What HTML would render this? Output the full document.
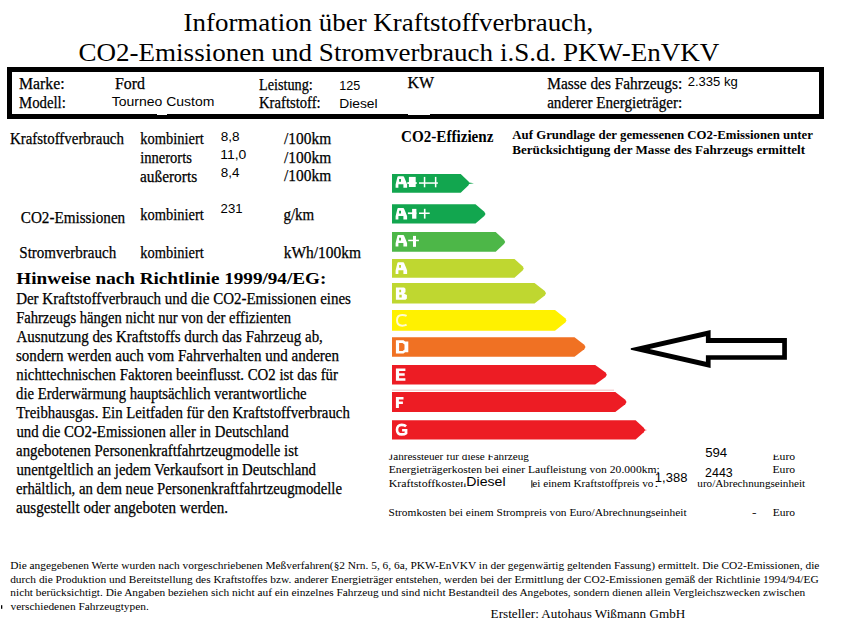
<!DOCTYPE html>
<html><head><meta charset="utf-8"><title>Information über Kraftstoffverbrauch</title>
<style>
html,body{margin:0;padding:0;background:#fff;width:845px;height:630px;overflow:hidden;}
svg{display:block;}
text{white-space:pre;}
</style></head><body>
<svg width="845" height="630" viewBox="0 0 845 630">
<rect x="0" y="0" width="845" height="630" fill="#fff"/>

<rect x="9.5" y="69.5" width="812" height="47" fill="none" stroke="#000" stroke-width="5"/>
<rect x="157" y="114" width="10" height="1" fill="#fff"/>
<rect x="408" y="114" width="22" height="1" fill="#fff"/>
<polygon points="392,174 460.7,174 468.3,181.15 469.5,183.35 468.3,185.54999999999998 460.7,192.7 392,192.7" fill="#12a64f"/>
<path transform="translate(395.6,176.20)" d="M2.6,0 H7.6 Q8.2,0 8.5,0.8 L10.6,5.8 L11.5,8.2 V11.6 H7.8 V8 H2.8 V11.6 H0 V8.2 L0.6,5.8 L1.8,0.8 Q2,0 2.6,0 Z M3.5,2.7 H5.4 V5.5 H3.5 Z" fill="#ffffff" fill-rule="evenodd"/>
<rect x="408.9" y="176.9" width="6.8" height="10.1" fill="#ffffff"/>
<rect x="407.3" y="182.1" width="9.4" height="1.9" fill="#ffffff"/>
<rect x="419" y="182.3" width="18.9" height="1.5" fill="#ffffff"/>
<rect x="423.8" y="176.9" width="1.5" height="10.4" fill="#ffffff"/>
<rect x="434.9" y="176.9" width="1.5" height="10.4" fill="#ffffff"/>
<path d="M469,182.6 L474,183.2 L469,184" fill="#12a64f"/>
<polygon points="392,204.2 475.5,204.2 484.3,211.7 485.5,213.89999999999998 484.3,216.09999999999997 475.5,223.6 392,223.6" fill="#12a64f"/>
<path transform="translate(395.6,208.00)" d="M2.6,0 H7.6 Q8.2,0 8.5,0.8 L10.6,5.8 L11.5,8.2 V11.6 H7.8 V8 H2.8 V11.6 H0 V8.2 L0.6,5.8 L1.8,0.8 Q2,0 2.6,0 Z M3.5,2.7 H5.4 V5.5 H3.5 Z" fill="#ffffff" fill-rule="evenodd"/>
<rect x="412.1" y="208.9" width="4.3" height="9.8" fill="#ffffff"/>
<rect x="407.9" y="212.4" width="8.5" height="1.7" fill="#ffffff"/>
<rect x="419" y="212.5" width="10.7" height="1.5" fill="#ffffff"/>
<rect x="423.9" y="208.8" width="1.6" height="9.8" fill="#ffffff"/>
<polygon points="392,232.1 495.7,232.1 504.0,239.7 505.2,241.89999999999998 504.0,244.09999999999997 495.7,251.7 392,251.7" fill="#4db748"/>
<path transform="translate(395.6,235.00)" d="M2.6,0 H7.6 Q8.2,0 8.5,0.8 L10.6,5.8 L11.5,8.2 V11.6 H7.8 V8 H2.8 V11.6 H0 V8.2 L0.6,5.8 L1.8,0.8 Q2,0 2.6,0 Z M3.5,2.7 H5.4 V5.5 H3.5 Z" fill="#ffffff" fill-rule="evenodd"/>
<rect x="413" y="235.9" width="3" height="10.9" fill="#ffffff"/>
<rect x="408.2" y="239.7" width="10.7" height="1.5" fill="#ffffff"/>
<polygon points="392,259 514.5,259 522.5999999999999,266.2 523.8,268.4 522.5999999999999,270.59999999999997 514.5,277.8 392,277.8" fill="#bfd730"/>
<path transform="translate(395.6,262.30)" d="M2.6,0 H7.6 Q8.2,0 8.5,0.8 L10.6,5.8 L11.5,8.2 V11.6 H7.8 V8 H2.8 V11.6 H0 V8.2 L0.6,5.8 L1.8,0.8 Q2,0 2.6,0 Z M3.5,2.7 H5.4 V5.5 H3.5 Z" fill="#ffffff" fill-rule="evenodd"/>
<polygon points="392,283.1 534.5,283.1 544.8,291.05 546,293.25 544.8,295.45 534.5,303.4 392,303.4" fill="#bfd730"/>
<path transform="translate(395.9,287.40)" d="M0,0 H8.2 L9.6,1.4 V4.8 L8.4,5.6 V6.4 L11,7.6 V11 L9.6,12.4 H0 Z M3.4,2.4 H5.2 V4.8 H3.4 Z M3.4,7.4 H5.8 V10 H3.4 Z" fill="#ffffff" fill-rule="evenodd"/>
<polygon points="392,310 555,310 565.3,318.2 566.5,320.4 565.3,322.59999999999997 555,330.8 392,330.8" fill="#fff100"/>
<path transform="translate(396,314.10)" d="M10.6,1.8 Q9,0.9 6.2,0.9 Q1,0.9 1,6.25 Q1,11.6 6.2,11.6 Q9,11.6 10.6,10.6" fill="none" stroke="#fffbd0" stroke-width="2"/>
<polygon points="392,337.2 574.5,337.2 584.3,344.75 585.5,346.95 584.3,349.15 574.5,356.7 392,356.7" fill="#f07123"/>
<path transform="translate(395.9,340.30)" d="M0,0 H7.6 L9.2,1.2 H12.4 V12 H9.2 L7.6,13.3 H0 Z M3.2,2.6 H6.6 L8.6,4.2 V9.2 L6.8,10.8 H3.2 Z" fill="#ffffff" fill-rule="evenodd"/>
<polygon points="392,365 595.2,365 605.5999999999999,372.55 606.8,374.75 605.5999999999999,376.95 595.2,384.5 392,384.5" fill="#ed1c24"/>
<path transform="translate(395.9,368.40)" d="M0,0 H9.5 V2.6 H3.2 V4.9 H8.8 V7.4 H3.2 V9.8 H9.5 V12.4 H0 Z" fill="#ffffff" fill-rule="evenodd"/>
<polygon points="392,392 615.3,392 625.3,399.75 626.5,401.95 625.3,404.15 615.3,411.9 392,411.9" fill="#ed1c24"/>
<path transform="translate(395.9,396.90)" d="M0,0 H7.6 V2.5 H3 V4.6 H7 V7 H3 V11.1 H0 Z" fill="#ffffff" fill-rule="evenodd"/>
<polygon points="392,420.3 635.6,420.3 643.8,427.75000000000006 645,429.95000000000005 643.8,432.15000000000003 635.6,439.6 392,439.6" fill="#ed1c24"/>
<path transform="translate(395.7,423.60)" d="M10.4,2.6 Q9,1.3 6,1.3 Q1.3,1.3 1.3,6.05 Q1.3,10.8 6,10.8 Q9,10.8 10.4,9.6 V6.6 H6.4" fill="none" stroke="#ffffff" stroke-width="2.6"/>
<path d="M644,429.6 L647,430.1 L644,430.7" fill="#ed1c24"/>
<rect x="392" y="389.6" width="222" height="1.2" fill="#f6c9cb"/>
<path d="M630.8,348.2 L710.6,329.9 V338.1 H786.9 V359.8 H710.6 V368 L630.8,349.8 Z M649.5,349 L705.9,361.8 V355.2 H782.2 V342.9 H705.9 V336.2 Z" fill="#000" fill-rule="evenodd"/>
<text x="183.56" y="31" font-family='"Liberation Serif", serif' font-size="26" textLength="409.71" lengthAdjust="spacingAndGlyphs">Information über Kraftstoffverbrauch,</text>
<text x="78.42" y="61" font-family='"Liberation Serif", serif' font-size="26" textLength="640.92" lengthAdjust="spacingAndGlyphs">CO2-Emissionen und Stromverbrauch i.S.d. PKW-EnVKV</text>
<text x="19.03" y="88.5" font-family='"Liberation Serif", serif' font-size="16" stroke="#000" stroke-width="0.25" textLength="45.58" lengthAdjust="spacingAndGlyphs">Marke:</text>
<text x="19.06" y="107.7" font-family='"Liberation Serif", serif' font-size="16" stroke="#000" stroke-width="0.25" textLength="46.74" lengthAdjust="spacingAndGlyphs">Modell:</text>
<text x="114.92" y="88.8" font-family='"Liberation Serif", serif' font-size="16" stroke="#000" stroke-width="0.25" textLength="30.02" lengthAdjust="spacingAndGlyphs">Ford</text>
<text x="111.72" y="105.6" font-family='"Liberation Sans", sans-serif' font-size="13" textLength="102.65" lengthAdjust="spacingAndGlyphs">Tourneo Custom</text>
<text x="259.07" y="89.5" font-family='"Liberation Serif", serif' font-size="16" stroke="#000" stroke-width="0.25" textLength="53.70" lengthAdjust="spacingAndGlyphs">Leistung:</text>
<text x="259.06" y="107.8" font-family='"Liberation Serif", serif' font-size="16" stroke="#000" stroke-width="0.25" textLength="61.55" lengthAdjust="spacingAndGlyphs">Kraftstoff:</text>
<text x="339.36" y="90" font-family='"Liberation Sans", sans-serif' font-size="13" textLength="20.99" lengthAdjust="spacingAndGlyphs">125</text>
<text x="339.19" y="107.8" font-family='"Liberation Sans", sans-serif' font-size="13" textLength="38.46" lengthAdjust="spacingAndGlyphs">Diesel</text>
<text x="407.52" y="88.2" font-family='"Liberation Serif", serif' font-size="16" stroke="#000" stroke-width="0.25" textLength="26.57" lengthAdjust="spacingAndGlyphs">KW</text>
<text x="547.24" y="88.8" font-family='"Liberation Serif", serif' font-size="16" stroke="#000" stroke-width="0.25" textLength="135.00" lengthAdjust="spacingAndGlyphs">Masse des Fahrzeugs:</text>
<text x="547.17" y="107.8" font-family='"Liberation Serif", serif' font-size="16" stroke="#000" stroke-width="0.25" textLength="135.09" lengthAdjust="spacingAndGlyphs">anderer Energieträger:</text>
<text x="687.65" y="85.6" font-family='"Liberation Sans", sans-serif' font-size="13" textLength="50.22" lengthAdjust="spacingAndGlyphs">2.335 kg</text>
<text x="9.95" y="143.8" font-family='"Liberation Serif", serif' font-size="16" stroke="#000" stroke-width="0.25" textLength="113.97" lengthAdjust="spacingAndGlyphs">Krafstoffverbrauch</text>
<text x="140.31" y="143.8" font-family='"Liberation Serif", serif' font-size="16" stroke="#000" stroke-width="0.25" textLength="63.41" lengthAdjust="spacingAndGlyphs">kombiniert</text>
<text x="140.31" y="162.8" font-family='"Liberation Serif", serif' font-size="16" stroke="#000" stroke-width="0.25" textLength="51.59" lengthAdjust="spacingAndGlyphs">innerorts</text>
<text x="140.06" y="181.8" font-family='"Liberation Serif", serif' font-size="16" stroke="#000" stroke-width="0.25" textLength="57.08" lengthAdjust="spacingAndGlyphs">außerorts</text>
<text x="220.69" y="141" font-family='"Liberation Sans", sans-serif' font-size="13" textLength="18.85" lengthAdjust="spacingAndGlyphs">8,8</text>
<text x="220.26" y="159" font-family='"Liberation Sans", sans-serif' font-size="13" textLength="26.06" lengthAdjust="spacingAndGlyphs">11,0</text>
<text x="220.69" y="176.8" font-family='"Liberation Sans", sans-serif' font-size="13" textLength="18.71" lengthAdjust="spacingAndGlyphs">8,4</text>
<text x="284.10" y="143.7" font-family='"Liberation Serif", serif' font-size="16" stroke="#000" stroke-width="0.25" textLength="47.06" lengthAdjust="spacingAndGlyphs">/100km</text>
<text x="284.10" y="162.8" font-family='"Liberation Serif", serif' font-size="16" stroke="#000" stroke-width="0.25" textLength="47.06" lengthAdjust="spacingAndGlyphs">/100km</text>
<text x="284.10" y="181.4" font-family='"Liberation Serif", serif' font-size="16" stroke="#000" stroke-width="0.25" textLength="47.06" lengthAdjust="spacingAndGlyphs">/100km</text>
<text x="20.79" y="223.4" font-family='"Liberation Serif", serif' font-size="16" stroke="#000" stroke-width="0.25" textLength="104.41" lengthAdjust="spacingAndGlyphs">CO2-Emissionen</text>
<text x="140.31" y="220.3" font-family='"Liberation Serif", serif' font-size="16" stroke="#000" stroke-width="0.25" textLength="63.41" lengthAdjust="spacingAndGlyphs">kombiniert</text>
<text x="220.64" y="212.9" font-family='"Liberation Sans", sans-serif' font-size="12.5" textLength="22.00" lengthAdjust="spacingAndGlyphs">231</text>
<text x="283.43" y="220" font-family='"Liberation Serif", serif' font-size="16" stroke="#000" stroke-width="0.25" textLength="30.73" lengthAdjust="spacingAndGlyphs">g/km</text>
<text x="19.32" y="258" font-family='"Liberation Serif", serif' font-size="16" stroke="#000" stroke-width="0.25" textLength="96.84" lengthAdjust="spacingAndGlyphs">Stromverbrauch</text>
<text x="140.31" y="258.2" font-family='"Liberation Serif", serif' font-size="16" stroke="#000" stroke-width="0.25" textLength="63.41" lengthAdjust="spacingAndGlyphs">kombiniert</text>
<text x="283.79" y="258.1" font-family='"Liberation Serif", serif' font-size="16" stroke="#000" stroke-width="0.25" textLength="77.23" lengthAdjust="spacingAndGlyphs">kWh/100km</text>
<text x="16.31" y="284" font-family='"Liberation Serif", serif' font-size="17.5" font-weight="bold" textLength="310.01" lengthAdjust="spacingAndGlyphs">Hinweise nach Richtlinie 1999/94/EG:</text>
<text x="16.15" y="303.8" font-family='"Liberation Serif", serif' font-size="16" stroke="#000" stroke-width="0.25" textLength="334.80" lengthAdjust="spacingAndGlyphs">Der Kraftstoffverbrauch und die CO2-Emissionen eines</text>
<text x="16.16" y="322.8" font-family='"Liberation Serif", serif' font-size="16" stroke="#000" stroke-width="0.25" textLength="274.94" lengthAdjust="spacingAndGlyphs">Fahrzeugs hängen nicht nur von der effizienten</text>
<text x="16.45" y="341.8" font-family='"Liberation Serif", serif' font-size="16" stroke="#000" stroke-width="0.25" textLength="306.41" lengthAdjust="spacingAndGlyphs">Ausnutzung des Kraftstoffs durch das Fahrzeug ab,</text>
<text x="16.00" y="360.8" font-family='"Liberation Serif", serif' font-size="16" stroke="#000" stroke-width="0.25" textLength="323.06" lengthAdjust="spacingAndGlyphs">sondern werden auch vom Fahrverhalten und anderen</text>
<text x="16.30" y="379.8" font-family='"Liberation Serif", serif' font-size="16" stroke="#000" stroke-width="0.25" textLength="321.64" lengthAdjust="spacingAndGlyphs">nichttechnischen Faktoren beeinflusst. CO2 ist das für</text>
<text x="16.09" y="398.8" font-family='"Liberation Serif", serif' font-size="16" stroke="#000" stroke-width="0.25" textLength="290.49" lengthAdjust="spacingAndGlyphs">die Erderwärmung hauptsächlich verantwortliche</text>
<text x="16.30" y="417.8" font-family='"Liberation Serif", serif' font-size="16" stroke="#000" stroke-width="0.25" textLength="333.49" lengthAdjust="spacingAndGlyphs">Treibhausgas. Ein Leitfaden für den Kraftstoffverbrauch</text>
<text x="16.38" y="436.8" font-family='"Liberation Serif", serif' font-size="16" stroke="#000" stroke-width="0.25" textLength="272.24" lengthAdjust="spacingAndGlyphs">und die CO2-Emissionen aller in Deutschland</text>
<text x="16.08" y="455.8" font-family='"Liberation Serif", serif' font-size="16" stroke="#000" stroke-width="0.25" textLength="282.04" lengthAdjust="spacingAndGlyphs">angebotenen Personenkraftfahrtzeugmodelle ist</text>
<text x="16.38" y="474.8" font-family='"Liberation Serif", serif' font-size="16" stroke="#000" stroke-width="0.25" textLength="299.58" lengthAdjust="spacingAndGlyphs">unentgeltlich an jedem Verkaufsort in Deutschland</text>
<text x="16.01" y="493.8" font-family='"Liberation Serif", serif' font-size="16" stroke="#000" stroke-width="0.25" textLength="325.99" lengthAdjust="spacingAndGlyphs">erhältlich, an dem neue Personenkraftfahrtzeugmodelle</text>
<text x="16.07" y="512.8" font-family='"Liberation Serif", serif' font-size="16" stroke="#000" stroke-width="0.25" textLength="211.91" lengthAdjust="spacingAndGlyphs">ausgestellt oder angeboten werden.</text>
<text x="401.04" y="142.1" font-family='"Liberation Serif", serif' font-size="16" font-weight="bold" textLength="92.43" lengthAdjust="spacingAndGlyphs">CO2-Effizienz</text>
<text x="512.37" y="138.7" font-family='"Liberation Serif", serif' font-size="12" font-weight="bold" textLength="300.57" lengthAdjust="spacingAndGlyphs">Auf Grundlage der gemessenen CO2-Emissionen unter</text>
<text x="512.30" y="153.9" font-family='"Liberation Serif", serif' font-size="12" font-weight="bold" textLength="292.76" lengthAdjust="spacingAndGlyphs">Berücksichtigung der Masse des Fahrzeugs ermittelt</text>
<text x="388.88" y="459.6" font-family='"Liberation Serif", serif' font-size="10.5" textLength="140.02" lengthAdjust="spacingAndGlyphs">Jahressteuer für diese Fahrzeug</text>
<text x="388.75" y="473.2" font-family='"Liberation Serif", serif' font-size="10.5" textLength="271.02" lengthAdjust="spacingAndGlyphs">Energieträgerkosten bei einer Laufleistung von 20.000km:</text>
<text x="388.74" y="486.8" font-family='"Liberation Serif", serif' font-size="10.5" textLength="77.44" lengthAdjust="spacingAndGlyphs">Kraftstoffkosten</text>
<text x="532.35" y="487.2" font-family='"Liberation Serif", serif' font-size="10.5" textLength="121.08" lengthAdjust="spacingAndGlyphs">ei einem Kraftstoffpreis vo</text>
<text x="654.52" y="487.2" font-family='"Liberation Serif", serif' font-size="10.5" textLength="3.75" lengthAdjust="spacingAndGlyphs">.</text>
<text x="772.45" y="459.5" font-family='"Liberation Serif", serif' font-size="10.5" textLength="22.70" lengthAdjust="spacingAndGlyphs">Euro</text>
<text x="772.45" y="473.1" font-family='"Liberation Serif", serif' font-size="10.5" textLength="22.70" lengthAdjust="spacingAndGlyphs">Euro</text>
<text x="697.33" y="486.9" font-family='"Liberation Serif", serif' font-size="10.5" textLength="107.87" lengthAdjust="spacingAndGlyphs">uro/Abrechnungseinheit</text>
<text x="388.56" y="515.8" font-family='"Liberation Serif", serif' font-size="10.5" textLength="298.04" lengthAdjust="spacingAndGlyphs">Stromkosten bei einem Strompreis von Euro/Abrechnungseinheit</text>
<text x="752.03" y="515.7" font-family='"Liberation Serif", serif' font-size="10.5" textLength="4.48" lengthAdjust="spacingAndGlyphs">-</text>
<text x="772.65" y="515.7" font-family='"Liberation Serif", serif' font-size="10.5" textLength="22.39" lengthAdjust="spacingAndGlyphs">Euro</text>
<text x="10.26" y="568.9" font-family='"Liberation Serif", serif' font-size="10.8" textLength="809.14" lengthAdjust="spacingAndGlyphs">Die angegebenen Werte wurden nach vorgeschriebenen Meßverfahren(§2 Nrn. 5, 6, 6a, PKW-EnVKV in der gegenwärtig geltenden Fassung) ermittelt. Die CO2-Emissionen, die</text>
<text x="10.20" y="582.6" font-family='"Liberation Serif", serif' font-size="10.8" textLength="808.46" lengthAdjust="spacingAndGlyphs">durch die Produktion und Bereitstellung des Kraftstoffes bzw. anderer Energieträger entstehen, werden bei der Ermittlung der CO2-Emissionen gemäß der Richtlinie 1994/94/EG</text>
<text x="10.37" y="596.3" font-family='"Liberation Serif", serif' font-size="10.8" textLength="794.80" lengthAdjust="spacingAndGlyphs">nicht berücksichtigt. Die Angaben beziehen sich nicht auf ein einzelnes Fahrzeug und sind nicht Bestandteil des Angebotes, sondern dienen allein Vergleichszwecken zwischen</text>
<text x="10.60" y="609.9" font-family='"Liberation Serif", serif' font-size="10.8" textLength="138.16" lengthAdjust="spacingAndGlyphs">verschiedenen Fahrzeugtypen.</text>
<text x="490.61" y="617.8" font-family='"Liberation Serif", serif' font-size="12.8" textLength="194.63" lengthAdjust="spacingAndGlyphs">Ersteller: Autohaus Wißmann GmbH</text>
<rect x="385" y="440" width="420" height="14.6" fill="#fff"/>
<rect x="463" y="474" width="68.5" height="9.5" fill="#fff"/>
<rect x="531.3" y="480.2" width="1.1" height="7.5" fill="#222"/>
<rect x="1" y="605.2" width="1.3" height="3.6" fill="#000"/>
<text x="466.37" y="486.1" font-family='"Liberation Sans", sans-serif' font-size="12" textLength="39.20" lengthAdjust="spacingAndGlyphs">Diesel</text>
<text x="654.83" y="481.7" font-family='"Liberation Sans", sans-serif' font-size="12" textLength="32.53" lengthAdjust="spacingAndGlyphs">1,388</text>
<text x="705.17" y="457.4" font-family='"Liberation Sans", sans-serif' font-size="12" textLength="22.07" lengthAdjust="spacingAndGlyphs">594</text>
<text x="705.08" y="477.3" font-family='"Liberation Sans", sans-serif' font-size="12" textLength="27.61" lengthAdjust="spacingAndGlyphs">2443</text>
</svg>
</body></html>
